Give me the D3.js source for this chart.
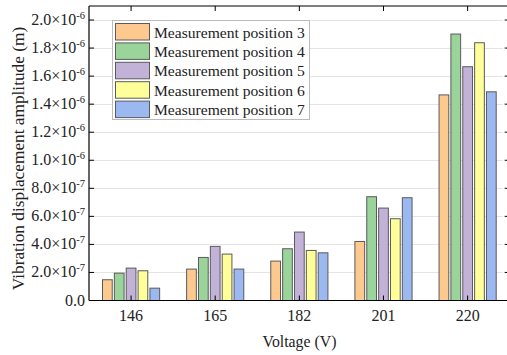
<!DOCTYPE html>
<html><head><meta charset="utf-8">
<script src="https://cdn.jsdelivr.net/npm/d3@7"></script>
<style>body{margin:0;background:#fff;}svg{display:block;}text{font-family:"Liberation Serif","Times New Roman",serif;fill:#222;}</style>
</head><body>
<script>
const categories = ["146","165","182","201","220"];
const seriesNames = ["Measurement position 3","Measurement position 4","Measurement position 5","Measurement position 6","Measurement position 7"];
const pos3 = [1.48e-7, 2.24e-7, 2.81e-7, 4.21e-7, 1.466e-6];
const pos4 = [1.95e-7, 3.07e-7, 3.69e-7, 7.40e-7, 1.90e-6];
const pos5 = [2.31e-7, 3.86e-7, 4.88e-7, 6.59e-7, 1.667e-6];
const pos6 = [2.12e-7, 3.31e-7, 3.57e-7, 5.83e-7, 1.838e-6];
const pos7 = [0.88e-7, 2.24e-7, 3.40e-7, 7.33e-7, 1.488e-6];
const yTicks = [0, 2e-7, 4e-7, 6e-7, 8e-7, 1e-6, 1.2e-6, 1.4e-6, 1.6e-6, 1.8e-6, 2e-6];
const colors = ["#FEC98E","#9AD49A","#C3B2D8","#FFFF99","#9BB9F0"];
const allSeries = [pos3,pos4,pos5,pos6,pos7];

const W=507,H=355;
const m={left:89,top:6,right:509.7,bottom:300.5};
const svg=d3.select("body").append("svg").attr("width",W).attr("height",H);

const x=d3.scaleBand().domain(categories).range([m.left,m.right]).paddingInner(0).paddingOuter(0);
const xs=d3.scaleBand().domain(d3.range(5)).range([0,x.bandwidth()*0.73]).padding(0.18);
const y=d3.scaleLinear().domain([0,2.1e-6]).range([m.bottom,m.top]);

// gridlines
svg.append("g").selectAll("line").data(yTicks.slice(1)).join("line")
  .attr("x1",m.left).attr("x2",m.right-7).attr("y1",d=>Math.round(y(d))+0.5).attr("y2",d=>Math.round(y(d))+0.5)
  .attr("stroke","#e4e4e4").attr("stroke-width",1);

// bars
const off = (x.bandwidth()-x.bandwidth()*0.73)/2;
const g=svg.append("g");
categories.forEach((c,i)=>{
  allSeries.forEach((s,j)=>{
    g.append("rect")
      .attr("x",x(c)+off+xs(j))
      .attr("y",y(s[i]))
      .attr("width",xs.bandwidth())
      .attr("height",y(0)-y(s[i]))
      .attr("fill",colors[j]).attr("stroke","#5a5a5a").attr("stroke-width",1);
  });
});

// axes
const fmt=d=>{
  if(d===0) return "0.0";
  const e=Math.floor(Math.log10(d)+1e-9);
  const mant=d/Math.pow(10,e);
  return [mant.toFixed(1),e];
};
const yAxis=svg.append("g").attr("transform",`translate(${m.left},0)`);
yAxis.append("line").attr("x1",0).attr("x2",0).attr("y1",m.top).attr("y2",m.bottom).attr("stroke","#000").attr("stroke-width",1.2);
yTicks.forEach(t=>{
  const yy=y(t);
  yAxis.append("line").attr("x1",0).attr("x2",5).attr("y1",yy).attr("y2",yy).attr("stroke","#000");
  const f=fmt(t);
  const tx=yAxis.append("text").attr("x",-4).attr("y",yy+5).attr("text-anchor","end").attr("font-size",16);
  if(typeof f==="string"){tx.text(f);}
  else{
    tx.append("tspan").text(f[0]+"×10");
    tx.append("tspan").attr("dy",-6.5).attr("font-size",10.5).text(String(f[1]));
  }
});
// right axis
const rAxis=svg.append("g");
rAxis.append("line").attr("x1",m.right).attr("x2",m.right).attr("y1",m.top).attr("y2",m.bottom).attr("stroke","#000").attr("stroke-width",1.2);
yTicks.forEach(t=>{
  rAxis.append("line").attr("x1",m.right-5).attr("x2",m.right).attr("y1",y(t)).attr("y2",y(t)).attr("stroke","#000");
});
// top & bottom
svg.append("line").attr("x1",m.left).attr("x2",m.right).attr("y1",m.top).attr("y2",m.top).attr("stroke","#000").attr("stroke-width",1.2);
svg.append("line").attr("x1",m.left).attr("x2",m.right).attr("y1",m.bottom).attr("y2",m.bottom).attr("stroke","#000").attr("stroke-width",1.2);
categories.forEach(c=>{
  const cx=x(c)+x.bandwidth()/2;
  svg.append("line").attr("x1",cx).attr("x2",cx).attr("y1",m.bottom).attr("y2",m.bottom-5).attr("stroke","#000");
  svg.append("line").attr("x1",cx).attr("x2",cx).attr("y1",m.top).attr("y2",m.top+5).attr("stroke","#000");
  svg.append("text").attr("x",cx).attr("y",320.5).attr("text-anchor","middle").attr("font-size",16).text(c);
});

// axis titles
svg.append("text").attr("x",299.5).attr("y",346.5).attr("text-anchor","middle").attr("font-size",15.8).text("Voltage (V)");
svg.append("text").attr("transform",`translate(23.5,158.5) rotate(-90)`).attr("text-anchor","middle").attr("font-size",17.3).text("Vibration displacement amplitude (m)");

// legend
const lg=svg.append("g");
lg.append("rect").attr("x",112.5).attr("y",20.5).attr("width",197).attr("height",99).attr("fill","#fff").attr("stroke","#bbb");
seriesNames.forEach((n,j)=>{
  const yy=23.5+j*19.4;
  lg.append("rect").attr("x",115.5).attr("y",yy).attr("width",34).attr("height",16.5).attr("fill",colors[j]).attr("stroke","#5a5a5a");
  lg.append("text").attr("x",154).attr("y",yy+14).attr("font-size",15.6).text(n);
});
</script>
</body></html>
